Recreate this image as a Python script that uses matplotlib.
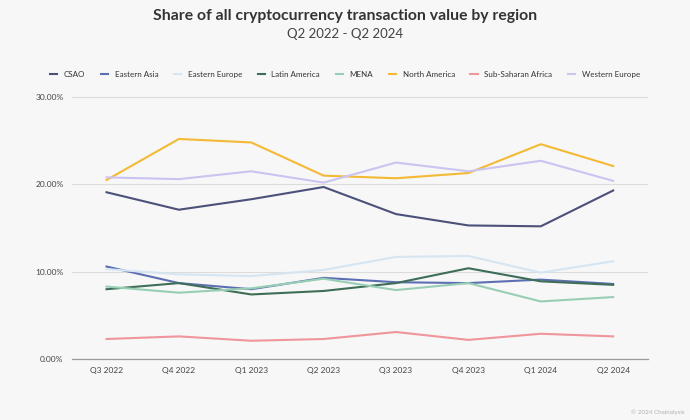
import matplotlib.pyplot as plt
from matplotlib.ticker import FuncFormatter

# quarters and region shares (% of all crypto transaction value)
quarters = ['Q3 2022', 'Q4 2022', 'Q1 2023', 'Q2 2023', 'Q3 2023', 'Q4 2023', 'Q1 2024', 'Q2 2024']
csao = [19.1, 17.1, 18.3, 19.7, 16.6, 15.3, 15.2, 19.3]
eastern_asia = [10.6, 8.7, 8.0, 9.3, 8.8, 8.7, 9.1, 8.6]
eastern_europe = [10.3, 9.7, 9.5, 10.2, 11.7, 11.8, 9.9, 11.2]
latin_america = [8.0, 8.7, 7.4, 7.8, 8.7, 10.4, 8.9, 8.5]
mena = [8.3, 7.6, 8.1, 9.2, 7.9, 8.7, 6.6, 7.1]
north_america = [20.5, 25.2, 24.8, 21.0, 20.7, 21.3, 24.6, 22.1]
sub_saharan = [2.3, 2.6, 2.1, 2.3, 3.1, 2.2, 2.9, 2.6]
western_europe = [20.8, 20.6, 21.5, 20.2, 22.5, 21.5, 22.7, 20.4]

series = [
    ('CSAO', csao, '#4b5179'),
    ('Eastern Asia', eastern_asia, '#5c6fb3'),
    ('Eastern Europe', eastern_europe, '#d5e5f2'),
    ('Latin America', latin_america, '#3e6e58'),
    ('MENA', mena, '#98cfb4'),
    ('North America', north_america, '#f4b935'),
    ('Sub-Saharan Africa', sub_saharan, '#ef959b'),
    ('Western Europe', western_europe, '#cbc4f1'),
]

bg = '#f7f7f7'
plt.rcParams['font.family'] = ['Lato', 'DejaVu Sans']

fig = plt.figure(figsize=(6.9, 4.2), dpi=100, facecolor=bg)
ax = fig.add_axes([0.104, 0.145, 0.835, 0.624], facecolor=bg)

x = list(range(len(quarters)))
for name, vals, col in series:
    ax.plot(x, vals, color=col, linewidth=1.5, label=name)

ax.set_ylim(0, 30)
ax.set_xlim(-0.48, len(quarters) - 1 + 0.48)
ax.set_yticks([0, 10, 20, 30])
ax.yaxis.set_major_formatter(FuncFormatter(lambda v, p: f'{v:.2f}%'))
ax.set_xticks(x)
ax.set_xticklabels(quarters)
ax.tick_params(length=0, labelsize=6, colors='#444444', pad=6)
ax.grid(axis='y', color='#dcdcdc', linewidth=0.8)
ax.set_axisbelow(True)
for s in ['top', 'right', 'left']:
    ax.spines[s].set_visible(False)
ax.spines['bottom'].set_color('#9a9a9a')
ax.spines['bottom'].set_linewidth(0.9)

# titles
fig.text(0.5, 0.963, 'Share of all cryptocurrency transaction value by region',
         ha='center', va='center', fontsize=11.3, fontweight='bold', color='#333333')
fig.text(0.5, 0.918, 'Q2 2022 - Q2 2024', ha='center', va='center', fontsize=9.5, color='#444444')

# legend
fig.legend(loc='center', bbox_to_anchor=(0.5, 0.822), ncol=8, frameon=False,
           fontsize=5.8, handlelength=0.9, handletextpad=0.8, columnspacing=1.95,
           labelcolor='#333333')

fig.text(0.992, 0.012, '© 2024 Chainalysis', ha='right', va='bottom', fontsize=4.5, color='#b0b0b0')

fig.savefig('out.png', dpi=100, facecolor=bg)
